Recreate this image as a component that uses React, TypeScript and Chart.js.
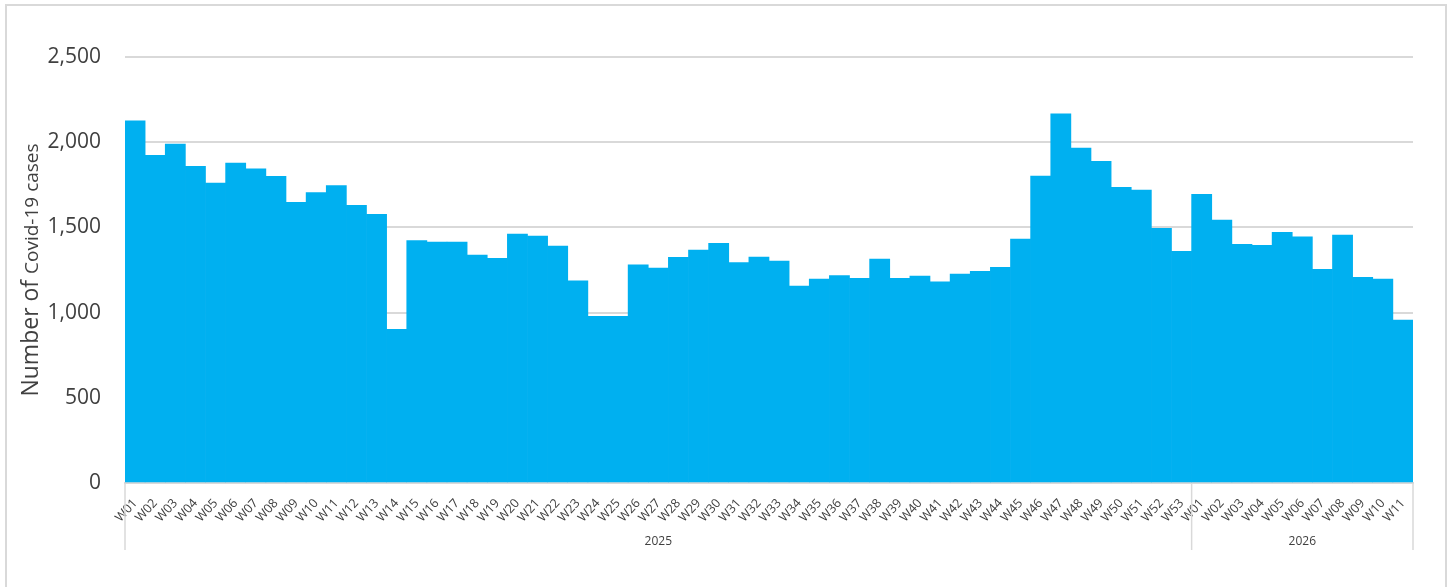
import React, { useEffect, useRef } from "react";
import { Chart, registerables } from "chart.js";

Chart.register(...registerables);

const weeks2025 = [
  "W01","W02","W03","W04","W05","W06","W07","W08","W09","W10",
  "W11","W12","W13","W14","W15","W16","W17","W18","W19","W20",
  "W21","W22","W23","W24","W25","W26","W27","W28","W29","W30",
  "W31","W32","W33","W34","W35","W36","W37","W38","W39","W40",
  "W41","W42","W43","W44","W45","W46","W47","W48","W49","W50",
  "W51","W52","W53",
];
const weeks2026 = ["W01","W02","W03","W04","W05","W06","W07","W08","W09","W10","W11"];

const cases2025 = [
  2126, 1923, 1989, 1858, 1760, 1878, 1843, 1800, 1647, 1704,
  1745, 1629, 1577, 902, 1422, 1414, 1414, 1338, 1318, 1461,
  1449, 1391, 1187, 978, 978, 1281, 1262, 1324, 1367, 1406,
  1293, 1326, 1303, 1156, 1197, 1217, 1201, 1314, 1201, 1215,
  1181, 1226, 1242, 1266, 1432, 1801, 2167, 1966, 1888, 1735,
  1719, 1494, 1360,
];
const cases2026 = [1694, 1543, 1401, 1395, 1471, 1445, 1254, 1455, 1207, 1197, 956];

const years = ["2025", "2026"];
const yTicks = [0, 500, 1000, 1500, 2000, 2500];
const yTitleMain = "Number of ";
const yTitleSub = "Covid-19 cases";

const FONT = "'Open Sans', 'Noto Sans', sans-serif";
const TEXT = "#404040";
const GRID = "#D9D9D9";

const labels = [...weeks2025, ...weeks2026];
const values = [...cases2025, ...cases2026];
const groupSizes = [weeks2025.length, weeks2026.length];

const decorPlugin = {
  id: "decor",
  beforeDraw(chart: any) {
    const ctx = chart.ctx;
    ctx.save();
    ctx.strokeStyle = GRID;
    ctx.lineWidth = 2;
    ctx.strokeRect(6, 5, 1440, 620);
    ctx.restore();
  },
  afterDraw(chart: any) {
    const ctx = chart.ctx;
    const xs = chart.scales.x;
    const area = chart.chartArea;
    const n = labels.length;
    const bw = (xs.right - xs.left) / n;
    ctx.save();
    ctx.strokeStyle = GRID;
    ctx.lineWidth = 1.5;
    const bounds: number[] = [0];
    let acc = 0;
    for (const g of groupSizes) {
      acc += g;
      bounds.push(acc);
    }
    const edge = (i: number) =>
      i >= n ? xs.getPixelForValue(n - 1) + bw / 2 : xs.getPixelForValue(i) - bw / 2;
    for (const b of bounds) {
      const x = edge(b);
      ctx.beginPath();
      ctx.moveTo(x, area.bottom);
      ctx.lineTo(x, area.bottom + 67);
      ctx.stroke();
    }
    ctx.fillStyle = TEXT;
    ctx.font = `12px ${FONT}`;
    ctx.textAlign = "center";
    ctx.textBaseline = "middle";
    for (let i = 0; i < years.length; i++) {
      const x0 = edge(bounds[i]);
      const x1 = edge(bounds[i + 1]);
      ctx.fillText(years[i], (x0 + x1) / 2, area.bottom + 59);
    }
    ctx.translate(38, (area.top + area.bottom) / 2);
    ctx.rotate(-Math.PI / 2);
    ctx.textAlign = "left";
    ctx.textBaseline = "alphabetic";
    ctx.font = `23px ${FONT}`;
    const w1 = ctx.measureText(yTitleMain).width;
    ctx.font = `19px ${FONT}`;
    const w2 = ctx.measureText(yTitleSub).width;
    const start = -(w1 + w2) / 2;
    ctx.font = `23px ${FONT}`;
    ctx.fillText(yTitleMain, start, 0);
    ctx.font = `19px ${FONT}`;
    ctx.fillText(yTitleSub, start + w1, 0);
    ctx.restore();
  },
};

export default function App() {
  const ref = useRef<HTMLCanvasElement | null>(null);
  useEffect(() => {
    document.body.style.margin = "0";
    const canvas = ref.current;
    if (!canvas) return;
    const chart = new Chart(canvas, {
      type: "bar",
      data: {
        labels,
        datasets: [
          {
            data: values,
            backgroundColor: "#00B0F0",
            borderWidth: 0,
            barPercentage: 1,
            categoryPercentage: 1,
          },
        ],
      },
      options: {
        animation: false,
        responsive: false,
        maintainAspectRatio: false,
        layout: { padding: { left: 0, right: 37, top: 57, bottom: 0 } },
        plugins: { legend: { display: false }, tooltip: { enabled: false } },
        scales: {
          x: {
            grid: { display: false, drawTicks: false },
            border: { display: true, color: GRID, width: 2 },
            ticks: {
              autoSkip: false,
              maxRotation: 48,
              minRotation: 48,
              padding: 13,
              color: TEXT,
              font: { family: FONT, size: 12.5 },
            },
            afterFit(scale: any) {
              scale.height = 104;
            },
          },
          y: {
            min: 0,
            max: 2500,
            afterBuildTicks(scale: any) {
              scale.ticks = yTicks.map((v) => ({ value: v }));
            },
            grid: { color: GRID, lineWidth: 2, drawTicks: false },
            border: { display: false },
            ticks: {
              padding: 24,
              color: TEXT,
              font: { family: FONT, size: 21 },
              callback: (v: any) => Number(v).toLocaleString("en-US"),
            },
            afterFit(scale: any) {
              scale.width = 125;
            },
          },
        },
      },
      plugins: [decorPlugin],
    });
    return () => chart.destroy();
  }, []);
  return (
    <div style={{ width: 1450, height: 587, background: "#fff" }}>
      <canvas ref={ref} width={1450} height={587} style={{ display: "block" }} />
    </div>
  );
}
